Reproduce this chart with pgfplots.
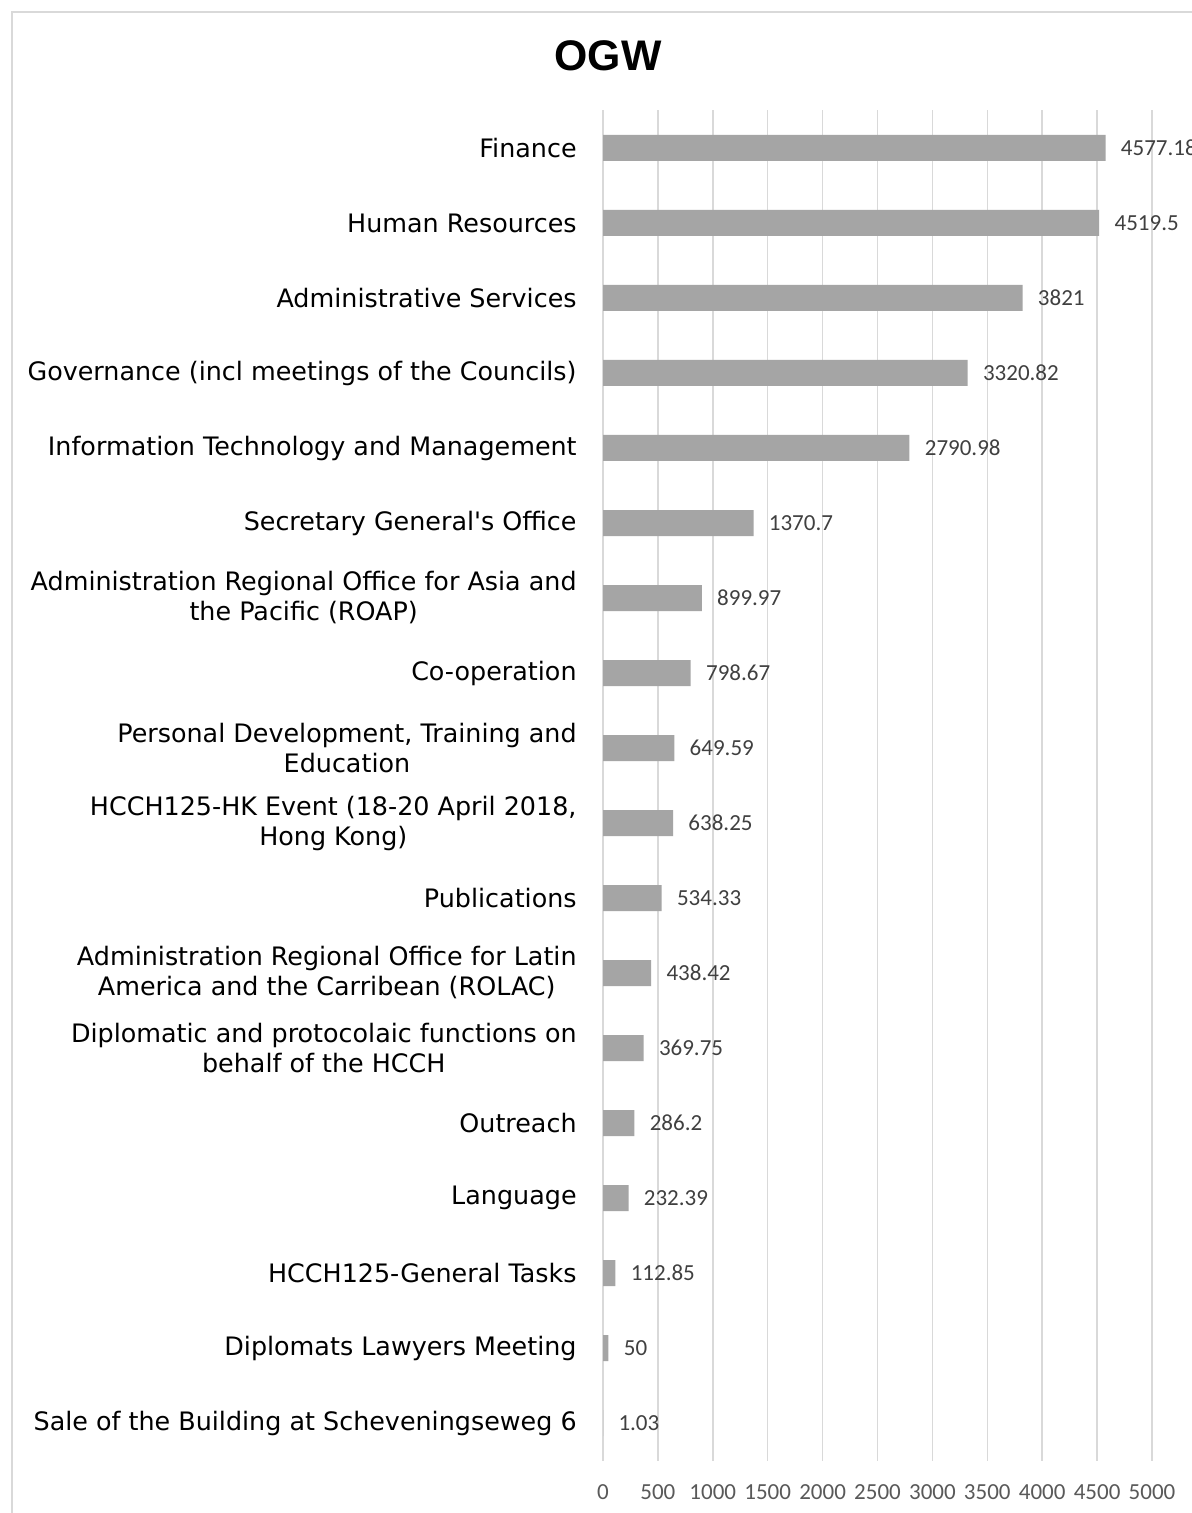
\documentclass[border=0pt]{standalone}
\usepackage{pgfplots}
\pgfplotsset{compat=1.18}
\usepackage{pgfplotstable}
\usepackage{fontspec}
\setmainfont{DejaVu Sans}
\newfontfamily\carlito{Carlito}
\newfontfamily\arialf{Liberation Sans}
\definecolor{barc}{HTML}{A5A5A5}
\definecolor{gridc}{HTML}{D9D9D9}
\definecolor{tickc}{HTML}{595959}
\definecolor{valc}{HTML}{404040}
\definecolor{framec}{HTML}{D9D9D9}
\pgfplotstableread{
i v lbl
0 4577.18 4577.18
1 4519.5 4519.5
2 3821 3821
3 3320.82 3320.82
4 2790.98 2790.98
5 1370.7 1370.7
6 899.97 899.97
7 798.67 798.67
8 649.59 649.59
9 638.25 638.25
10 534.33 534.33
11 438.42 438.42
12 369.75 369.75
13 286.2 286.2
14 232.39 232.39
15 112.85 112.85
16 50 50
17 1.03 1.03
}\datatable
\begin{document}
\begin{tikzpicture}
\useasboundingbox (0,0) rectangle (596pt,756.5pt);
\fill[white] (0,0) rectangle (596pt,756.5pt);
\draw[framec, line width=0.8pt] (6pt,0) -- (6pt,750.5pt) -- (600pt,750.5pt);
\begin{axis}[
  at={(301.5pt,26.25pt)}, anchor=south west,
  scale only axis, width=274.5pt, height=675pt,
  xbar, bar width=13pt,
  xmin=0, xmax=5000, ymin=-0.5, ymax=17.5,
  y dir=reverse,
  axis line style={draw=none},
  major tick length=0pt,
  xmajorgrids, grid style={gridc, line width=0.75pt},
  xtick={0,500,1000,1500,2000,2500,3000,3500,4000,4500,5000},
  xticklabels={0,500,1000,1500,2000,2500,3000,3500,4000,4500,5000},
  xticklabel style={font=\carlito\fontsize{11.5}{13}\selectfont, text=tickc, anchor=center, yshift=-15.75pt, inner sep=0pt},
  ytick={0,...,17},
  yticklabels={
    Finance,
    Human Resources,
    Administrative Services,
    Governance (incl meetings of the Councils),
    Information Technology and Management,
    Secretary General\textquotesingle s Office,
    {Administration Regional Office for Asia and\\the Pacific (ROAP)},
    Co-operation,
    {Personal Development, Training and\\Education},
    {HCCH125-HK Event (18-20 April 2018,\\Hong Kong)},
    Publications,
    {Administration Regional Office for Latin\\America and the Carribean (ROLAC)},
    {Diplomatic and protocolaic functions on\\behalf of the HCCH},
    Outreach,
    Language,
    HCCH125-General Tasks,
    Diplomats Lawyers Meeting,
    Sale of the Building at Scheveningseweg 6},
  yticklabel style={font=\fontsize{12.7}{15}\selectfont, align=center, anchor=east, inner sep=0pt, xshift=-13pt, text=black},
  nodes near coords,
  point meta=explicit symbolic,
  every node near coord/.append style={font=\carlito\fontsize{11.5}{13}\selectfont, text=valc, anchor=west, inner sep=0pt, xshift=7.5pt},
  clip=false,
]
\addplot[fill=barc, draw=none] table[x=v, y=i, meta=lbl] {\datatable};
\end{axis}
\node[font=\arialf\bfseries\fontsize{21.4}{24}\selectfont] at (304pt,728.5pt) {OGW};
\end{tikzpicture}
\end{document}
